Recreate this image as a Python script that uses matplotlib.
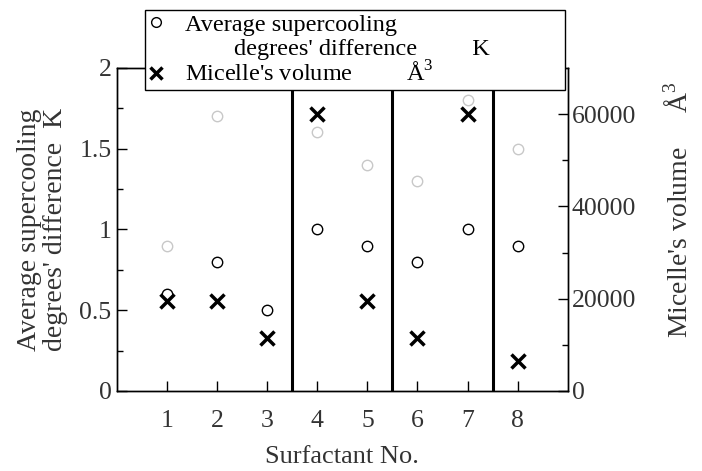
import matplotlib.pyplot as plt
from matplotlib.lines import Line2D

plt.rcParams['font.family'] = ['Liberation Serif', 'DejaVu Serif']
plt.rcParams['mathtext.fontset'] = 'custom'
plt.rcParams['mathtext.rm'] = 'Liberation Serif'

surfactant = [1, 2, 3, 4, 5, 6, 7, 8]
supercool_black = [0.6, 0.8, 0.5, 1.0, 0.9, 0.8, 1.0, 0.9]
grey_x = [1, 2, 4, 5, 6, 7, 8]
supercool_grey = [0.9, 1.7, 1.6, 1.4, 1.3, 1.8, 1.5]
micelle_volume = [19500, 19500, 11500, 60000, 19500, 11500, 60000, 6600]
group_edges = [3.5, 5.5, 7.5]

txt = '#333333'
fig = plt.figure(figsize=(7.02, 4.71), dpi=100)
ax = fig.add_axes([0.1667, 0.1699, 0.642, 0.686])
ax2 = ax.twinx()

ax.plot(grey_x, supercool_grey, 'o', ms=7.5, mfc='none', mec='#c8c8c8', mew=1.0)
ax.plot(surfactant, supercool_black, 'o', ms=7.5, mfc='none', mec='black', mew=1.0)
ax2.plot(surfactant, micelle_volume, 'x', ms=10, mec='black', mew=2.5)
for e in group_edges:
    ax.axvline(e, color='black', lw=2.2)

ax.set_xlim(0, 9)
ax.set_ylim(0, 2)
ax2.set_ylim(0, 70000)
ax.set_xticks(surfactant)
ax.set_yticks([0, 0.5, 1, 1.5, 2])
ax.set_yticklabels(['0', '0.5', '1', '1.5', '2'])
ax.set_yticks([0.25, 0.75, 1.25, 1.75], minor=True)
ax2.set_yticks([0, 20000, 40000, 60000])
ax2.set_yticks([10000, 30000, 50000], minor=True)

for a in (ax, ax2):
    a.tick_params(direction='in', length=7, width=1, labelsize=18.5, labelcolor=txt, pad=4)
    a.tick_params(which='minor', direction='in', length=4, width=1)
    for s in a.spines.values():
        s.set_linewidth(1)
ax.tick_params(axis='x', pad=14)
ax2.tick_params(axis='y', pad=3)

ax.set_xlabel('Surfactant No.', fontsize=19, color=txt, labelpad=10)
ax.set_ylabel("Average supercooling\ndegrees' difference  K", fontsize=20, color=txt,
              linespacing=1.05, labelpad=8)
ax2.set_ylabel("Micelle's volume     Å$^3$", fontsize=20, color=txt)
ax2.yaxis.set_label_coords(1.215, 0.56)

handles = [
    Line2D([], [], ls='none', marker='o', ms=7, mfc='none', mec='black'),
    Line2D([], [], ls='none'),
    Line2D([], [], ls='none', marker='x', ms=9, mec='black', mew=2.5),
]
labels = ['Average supercooling',
          "        degrees' difference         K",
          "Micelle's volume         Å$^3$"]
leg = fig.legend(handles, labels, loc='upper left',
                 bbox_to_anchor=(0.2066, 0.745, 0.598, 0.234), mode='expand',
                 borderaxespad=0, fontsize=17.5, frameon=True, fancybox=False,
                 framealpha=1, edgecolor='black', handlelength=0.6,
                 handletextpad=0.9, labelspacing=0.08, borderpad=0.15)
leg.get_frame().set_linewidth(1)

fig.savefig('out.png', dpi=100)
